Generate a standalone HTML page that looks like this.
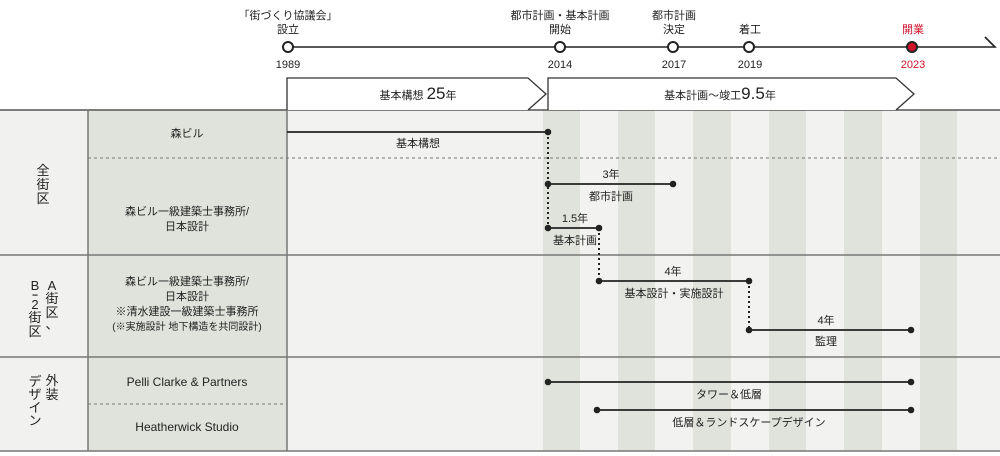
<!DOCTYPE html>
<html><head><meta charset="utf-8"><style>
html,body{margin:0;padding:0;background:#fff;}
svg{display:block;font-family:"Liberation Sans","Noto Sans CJK JP",sans-serif;}
</style></head><body>
<svg width="1000" height="456" viewBox="0 0 1000 456" xmlns="http://www.w3.org/2000/svg">
<rect x="0" y="0" width="1000" height="456" fill="#fff"/>
<!-- table backgrounds -->
<rect x="0" y="110" width="88" height="341" fill="#f1f1ef"/>
<rect x="88" y="110" width="199" height="341" fill="#e0e3dc"/>
<rect x="287" y="110" width="713" height="341" fill="#f2f2f0"/>
<g fill="#e0e3dc">
<rect x="543" y="110" width="37" height="341"/>
<rect x="618" y="110" width="37" height="341"/>
<rect x="693" y="110" width="38" height="341"/>
<rect x="769" y="110" width="37" height="341"/>
<rect x="844" y="110" width="38" height="341"/>
<rect x="920" y="110" width="37" height="341"/>
</g>
<g stroke="#777" stroke-width="1.5" fill="none">
<line x1="0" y1="110" x2="1000" y2="110" stroke="#555"/>
<line x1="0" y1="255" x2="1000" y2="255"/>
<line x1="0" y1="357" x2="1000" y2="357"/>
<line x1="0" y1="451" x2="1000" y2="451"/>
<line x1="88" y1="110" x2="88" y2="451"/>
<line x1="287" y1="110" x2="287" y2="451"/>
</g>
<g stroke="#777" stroke-width="1" stroke-dasharray="3,3">
<line x1="88" y1="158" x2="1000" y2="158"/>
<line x1="88" y1="404" x2="287" y2="404"/>
</g>
<!-- header arrows -->
<g stroke="#333" stroke-width="1.3" fill="#fff">
<path d="M287,110 L287,78 L528,78 L546,94 L528,110"/>
<path d="M548,110 L548,78 L896,78 L914,94 L896,110"/>
</g>
<text x="418" y="99" font-size="11" text-anchor="middle" fill="#222">基本構想 <tspan font-size="17">25</tspan>年</text>
<text x="720" y="99" font-size="11" text-anchor="middle" fill="#222">基本計画〜竣工<tspan font-size="17">9.5</tspan>年</text>
<!-- top timeline -->
<polyline points="288,47 995,47 985,37" stroke="#222" stroke-width="1.6" fill="none"/>
<g stroke="#222" stroke-width="2" fill="#fff">
<circle cx="288" cy="47" r="5"/><circle cx="560" cy="47" r="5"/><circle cx="673" cy="47" r="5"/><circle cx="749" cy="47" r="5"/>
<circle cx="912" cy="47" r="5" fill="#d0122c"/>
</g>
<g font-size="11" text-anchor="middle" fill="#222">
<text x="288" y="19">「街づくり協議会」</text><text x="288" y="33">設立</text><text x="288" y="68">1989</text>
<text x="560" y="19">都市計画・基本計画</text><text x="560" y="33">開始</text><text x="560" y="68">2014</text>
<text x="674" y="19">都市計画</text><text x="674" y="33">決定</text><text x="674" y="68">2017</text>
<text x="750" y="33">着工</text><text x="750" y="68">2019</text>
<text x="913" y="33" fill="#d0122c">開業</text><text x="913" y="68" fill="#d0122c">2023</text>
</g>
<!-- row headers -->
<g font-size="13" fill="#222" text-anchor="middle">
<text x="43" y="175">全</text><text x="43" y="189">街</text><text x="43" y="203">区</text>
<text x="52" y="290">A</text><text x="52" y="303">街</text><text x="52" y="317">区</text><text x="52" y="329">、</text>
<text x="35" y="290">B</text><text x="35" y="300">ｰ</text><text x="35" y="309">2</text><text x="35" y="322">街</text><text x="35" y="336">区</text>
<text x="52" y="385">外</text><text x="52" y="399">装</text>
<text x="35" y="386">デ</text><text x="35" y="399">ザ</text><text x="35" y="412">イ</text><text x="35" y="425">ン</text>
</g>
<g font-size="11" fill="#222" text-anchor="middle">
<text x="187" y="137">森ビル</text>
<text x="187" y="215">森ビル一級建築士事務所/</text><text x="187" y="230">日本設計</text>
<text x="187" y="285">森ビル一級建築士事務所/</text><text x="187" y="300">日本設計</text>
<text x="187" y="315">※清水建設一級建築士事務所</text><text x="187" y="330" font-size="10">(※実施設計 地下構造を共同設計)</text>
<text x="187" y="386" font-size="12">Pelli Clarke &amp; Partners</text>
<text x="187" y="431" font-size="12">Heatherwick Studio</text>
</g>
<!-- bars -->
<g stroke="#222" stroke-width="2" stroke-dasharray="2,3">
<line x1="548" y1="132" x2="548" y2="228"/>
<line x1="599" y1="228" x2="599" y2="281"/>
<line x1="749" y1="281" x2="749" y2="330"/>
</g>
<g stroke="#222" stroke-width="1.8">
<line x1="287" y1="132" x2="548" y2="132"/>
<line x1="548" y1="184" x2="673" y2="184"/>
<line x1="548" y1="228" x2="599" y2="228"/>
<line x1="599" y1="281" x2="749" y2="281"/>
<line x1="749" y1="330" x2="911" y2="330"/>
<line x1="548" y1="382" x2="911" y2="382"/>
<line x1="597" y1="410" x2="911" y2="410"/>
</g>
<g fill="#222">
<circle cx="548" cy="132" r="3.3"/><circle cx="548" cy="184" r="3.3"/><circle cx="673" cy="184" r="3.3"/>
<circle cx="548" cy="228" r="3.3"/><circle cx="599" cy="228" r="3.3"/>
<circle cx="599" cy="281" r="3.3"/><circle cx="749" cy="281" r="3.3"/>
<circle cx="749" cy="330" r="3.3"/><circle cx="911" cy="330" r="3.3"/>
<circle cx="548" cy="382" r="3.3"/><circle cx="911" cy="382" r="3.3"/>
<circle cx="597" cy="410" r="3.3"/><circle cx="911" cy="410" r="3.3"/>
</g>
<g font-size="11" fill="#222" text-anchor="middle">
<text x="418" y="147">基本構想</text>
<text x="611" y="178">3年</text><text x="611" y="200">都市計画</text>
<text x="575" y="222">1.5年</text><text x="575" y="244">基本計画</text>
<text x="673" y="275">4年</text><text x="674" y="297">基本設計・実施設計</text>
<text x="826" y="324">4年</text><text x="826" y="345">監理</text>
<text x="729" y="398">タワー＆低層</text>
<text x="749" y="426">低層＆ランドスケープデザイン</text>
</g>
</svg>
</body></html>
